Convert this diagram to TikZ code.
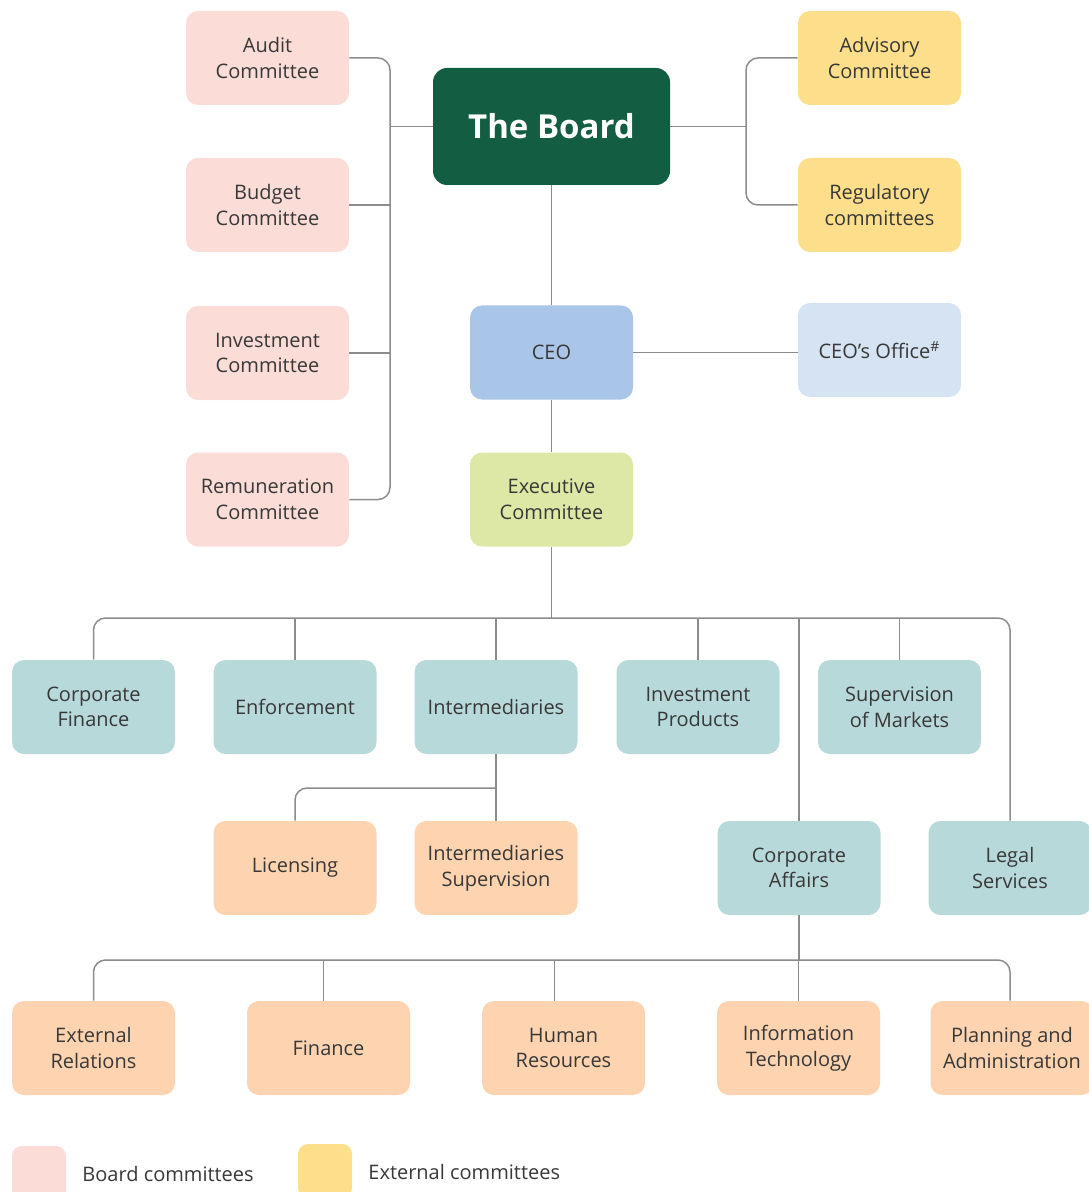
\documentclass[tikz,border=0pt]{standalone}
\usepackage{fontspec}
\setmainfont{Open Sans}
\usetikzlibrary{calc}
\definecolor{pinkc}{HTML}{FBDCD6}
\definecolor{yellowc}{HTML}{FDDF8B}
\definecolor{boardc}{HTML}{135E42}
\definecolor{ceoc}{HTML}{A9C6E8}
\definecolor{officec}{HTML}{D6E3F3}
\definecolor{execc}{HTML}{DDE8A6}
\definecolor{tealc}{HTML}{B8D9DA}
\definecolor{peachc}{HTML}{FDD3B0}
\definecolor{txtc}{HTML}{383838}
\definecolor{linec}{HTML}{8C8C8C}
\tikzset{
  box/.style={rounded corners=6pt, minimum width=81.5pt, minimum height=47pt, align=center,
    text=txtc, font=\fontsize{10}{12.8}\selectfont, inner sep=1pt},
  pinkbox/.style={box, fill=pinkc},
  yellowbox/.style={box, fill=yellowc},
  tealbox/.style={box, fill=tealc},
  peachbox/.style={box, fill=peachc},
  conn/.style={draw=linec, line width=0.75pt},
  legsq/.style={rounded corners=5pt, minimum width=27pt, minimum height=27pt, inner sep=0pt},
  legtxt/.style={anchor=west, text=txtc, font=\fontsize{10}{12.5}\selectfont, inner sep=0pt}
}
\begin{document}
\begin{tikzpicture}[x=0.5pt,y=-0.5pt]
\useasboundingbox (0,0) rectangle (1088,1192);
% top level
\node[pinkbox] (audit) at (267.5,58) {Audit\\Committee};
\node[pinkbox] (budget) at (267.5,205) {Budget\\Committee};
\node[pinkbox] (invc) at (267.5,353) {Investment\\Committee};
\node[pinkbox] (remun) at (267.5,499.5) {Remuneration\\Committee};
\node[rounded corners=7pt, fill=boardc, text=white, minimum width=118.5pt, minimum height=58.5pt,
  font=\bfseries\fontsize{16.5}{20}\selectfont] (board) at (551.5,126.5) {The Board};
\node[yellowbox] (adv) at (879.5,58) {Advisory\\Committee};
\node[yellowbox] (reg) at (879.5,205) {Regulatory\\committees};
\node[box, fill=ceoc] (ceo) at (551.5,352.5) {CEO};
\node[box, fill=officec] (office) at (879.5,350) {CEO’s Office\textsuperscript{\#}};
\node[box, fill=execc] (exec) at (551.5,499.5) {Executive\\Committee};
% row 2
\node[tealbox] (cf) at (93.5,707) {Corporate\\Finance};
\node[tealbox] (enf) at (295,707) {Enforcement};
\node[tealbox] (inter) at (496,707) {Intermediaries};
\node[tealbox] (ip) at (698,707) {Investment\\Products};
\node[tealbox] (som) at (899.5,707) {Supervision\\of Markets};
% row 3
\node[peachbox] (lic) at (295,868) {Licensing};
\node[peachbox] (isup) at (496,868) {Intermediaries\\Supervision};
\node[tealbox] (ca) at (799,868) {Corporate\\Affairs};
\node[tealbox] (legal) at (1010,868) {Legal\\Services};
% row 4
\node[peachbox] (er) at (93.5,1048) {External\\Relations};
\node[peachbox] (fin) at (328.5,1048) {Finance};
\node[peachbox] (hr) at (563.5,1048) {Human\\Resources};
\node[peachbox] (it) at (798.5,1048) {Information\\Technology};
\node[peachbox] (pa) at (1012,1048) {Planning and\\Administration};
% legend
\node[legsq, fill=pinkc] (legb) at (39,1173) {};
\node[legtxt] (legbt) at (82,1174) {Board committees};
\node[legsq, fill=yellowc] (lege) at (325,1171) {};
\node[legtxt] (leget) at (368,1172) {External committees};
% coordinates
\coordinate (lb) at (390,0);
\coordinate (rb) at (746,0);
\coordinate (bus1) at (0,618);
\coordinate (bus2) at (0,788);
\coordinate (bus3) at (0,960);
% left bracket
\draw[conn, rounded corners=6pt] (audit.east) -| (lb |- remun.east) -- (remun.east);
\draw[conn] (budget.east) -- (budget.east -| lb);
\draw[conn] (invc.east) -- (invc.east -| lb);
\draw[conn] (board.west) -- (board.west -| lb);
% right bracket
\draw[conn, rounded corners=6pt] (adv.west) -| (rb |- reg.west) -- (reg.west);
\draw[conn] (board.east) -- (board.east -| rb);
% spine
\draw[conn] (board.south) -- (ceo.north);
\draw[conn] (ceo.east) -- (ceo.east -| office.west);
\draw[conn] (ceo.south) -- (exec.north);
\draw[conn] (exec.south) -- (exec.south |- bus1);
% bus 1
\draw[conn, rounded corners=6pt] (cf.north) |- (legal.north |- bus1) -- (legal.north);
\draw[conn] (enf.north) -- (enf.north |- bus1);
\draw[conn] (inter.north) -- (inter.north |- bus1);
\draw[conn] (ip.north) -- (ip.north |- bus1);
\draw[conn] (som.north) -- (som.north |- bus1);
\draw[conn] (ca.north) -- (ca.north |- bus1);
% intermediaries
\draw[conn] (inter.south) -- (isup.north);
\draw[conn, rounded corners=6pt] (lic.north) |- (inter.south |- bus2);
% bus 3
\draw[conn] (ca.south) -- (ca.south |- bus3);
\draw[conn, rounded corners=6pt] (er.north) |- ($(pa.north |- bus3)+(-2,0)$) -- ($(pa.north)+(-2,0)$);
\draw[conn] ($(fin.north)+(-5,0)$) -- ($(fin.north |- bus3)+(-5,0)$);
\draw[conn] ($(hr.north)+(-9,0)$) -- ($(hr.north |- bus3)+(-9,0)$);
\draw[conn] (it.north) -- (it.north |- bus3);
\end{tikzpicture}
\end{document}
